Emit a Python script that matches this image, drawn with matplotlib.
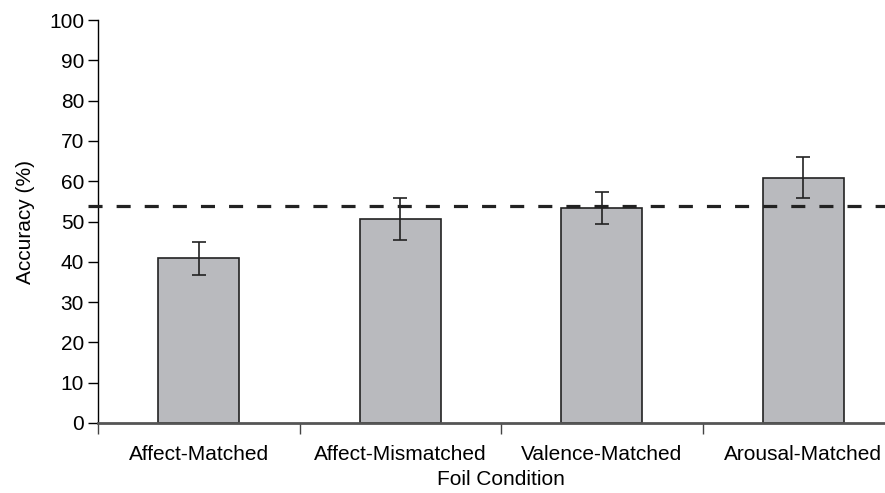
import matplotlib
matplotlib.use("Agg")
import matplotlib.pyplot as plt
import numpy as np

categories = ["Affect-Matched", "Affect-Mismatched", "Valence-Matched", "Arousal-Matched"]
accuracy = [40.9, 50.6, 53.3, 60.9]
errors = [4.1, 5.2, 3.9, 5.0]
chance_level = 53.8
y_ticks = [0, 10, 20, 30, 40, 50, 60, 70, 80, 90, 100]

plt.rcParams['font.family'] = ['Liberation Sans', 'DejaVu Sans']

W, H = 885, 493
fig = plt.figure(figsize=(W / 100, H / 100), dpi=100)
ax = fig.add_axes([98 / W, 70 / H, 806 / W, 403 / H])

x = np.arange(len(categories))
ax.bar(x, accuracy, width=0.4, color="#b9babe", edgecolor="#222222", linewidth=1.2, zorder=2)
ax.errorbar(x, accuracy, yerr=errors, fmt="none", ecolor="#222222", elinewidth=1.2,
            capsize=5, capthick=1.2, zorder=3)
ax.plot([-0.55, 3.5], [chance_level, chance_level], color="#222222", lw=2.3,
        dashes=(4.4, 4.4), clip_on=False, zorder=4)

ax.set_xlim(-0.5, 3.5)
ax.set_ylim(0, 100)
ax.set_yticks(y_ticks)
ax.set_xticks([-0.5, 0.5, 1.5, 2.5, 3.5])
ax.set_xticklabels([])
ax.set_xticks(x, minor=True)
ax.set_xticklabels(categories, minor=True)
ax.tick_params(axis="x", which="minor", length=0, pad=16, labelsize=15)
ax.tick_params(axis="x", which="major", length=8, width=1, color="#444444")
ax.tick_params(axis="y", length=7, width=1, labelsize=15, pad=3)

for s in ["top", "right"]:
    ax.spines[s].set_visible(False)
ax.spines["left"].set_linewidth(1)
ax.spines["bottom"].set_linewidth(2)
ax.spines["bottom"].set_color("#555555")

ax.set_ylabel("Accuracy (%)", fontsize=15, labelpad=10)
ax.set_xlabel("Foil Condition", fontsize=15, labelpad=4)

fig.savefig("out.png", dpi=100)
